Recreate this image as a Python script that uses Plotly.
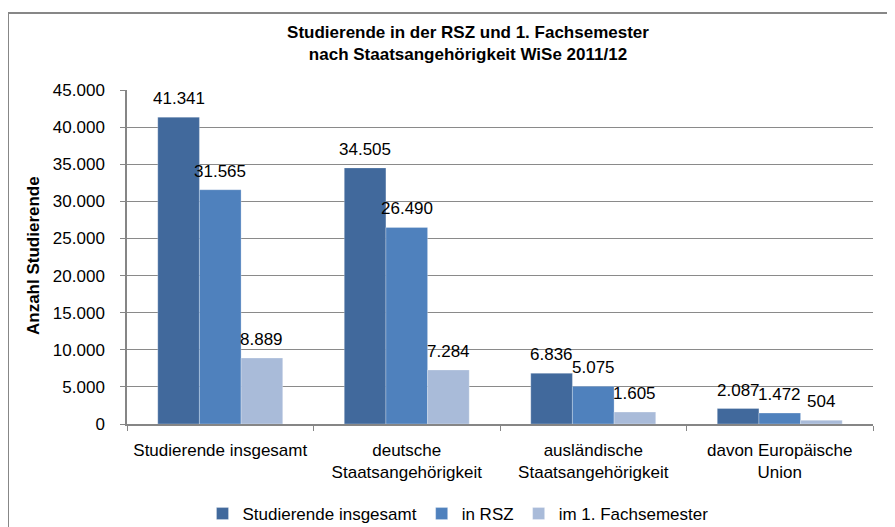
import plotly.graph_objects as go

categories = ["Studierende insgesamt", "deutsche<br>Staatsangehörigkeit",
              "ausländische<br>Staatsangehörigkeit", "davon Europäische<br>Union"]
series_names = ["Studierende insgesamt", "in RSZ", "im 1. Fachsemester"]
studierende_insgesamt = [41341, 34505, 6836, 2087]
in_rsz = [31565, 26490, 5075, 1472]
erstes_fachsemester = [8889, 7284, 1605, 504]
colors = ["#41699C", "#4F81BD", "#A9BBD9"]

FONT = "Liberation Sans, Arial, sans-serif"
FS = 17
BARGAP = 0.33

# page body has an 8px default margin -> figure is shifted by OFF
OFF = 8
W, H = 895 - OFF, 527 - OFF
# plot area in window pixels: x 127..873, y 90..424
L, R, T, B = 127 - OFF, W - (873 - OFF), 90 - OFF, H - (424 - OFF)
pw, ph = W - L - R, H - T - B

def px_x(x):
    return (x - OFF - L) / pw

def px_y(y):
    return 1 - (y - OFF - T) / ph

series = [studierende_insgesamt, in_rsz, erstes_fachsemester]
fig = go.Figure()
for name, vals, col in zip(series_names, series, colors):
    fig.add_trace(go.Bar(
        x=categories, y=vals, name=name,
        marker=dict(color=col, line=dict(color="rgba(255,255,255,0.45)", width=0.6)),
        cliponaxis=False,
    ))

# value labels above each bar (positioned via the category axis + bar offset)
bar_px = pw / len(categories) * (1 - BARGAP) / len(series)
for si, vals in enumerate(series):
    xs = (si - (len(series) - 1) / 2) * bar_px
    for cat, v in zip(categories, vals):
        fig.add_annotation(
            x=cat, y=v, xref="x", yref="y", text=f"{v:,}".replace(",", "."),
            showarrow=False, xanchor="center", yanchor="bottom",
            xshift=xs, yshift=7,
            font=dict(family=FONT, size=FS, color="#000000"),
        )

fig.update_layout(
    width=W, height=H,
    margin=dict(l=L, r=R, t=T, b=B, autoexpand=False),
    paper_bgcolor="white", plot_bgcolor="white",
    separators=",.",
    barmode="group", bargap=BARGAP, bargroupgap=0,
    font=dict(family=FONT, size=FS, color="#000000"),
    title=dict(
        text="<b>Studierende in der RSZ und 1. Fachsemester<br>nach Staatsangehörigkeit WiSe 2011/12</b>",
        x=(468 - OFF) / W, xanchor="center", y=1 - (38 - OFF) / H, yanchor="middle",
        font=dict(family=FONT, size=17, color="#000000"),
    ),
    xaxis=dict(
        showline=True, linecolor="#868686", linewidth=1.5,
        ticks="outside", tickson="boundaries", ticklen=5, tickcolor="#868686",
        ticklabelstandoff=10,
        tickfont=dict(family=FONT, size=FS, color="#000000"),
        showgrid=False,
    ),
    yaxis=dict(
        range=[0, 45000], dtick=5000, tickformat=",",
        showline=True, linecolor="#868686", linewidth=1.5,
        ticks="outside", ticklen=5, tickcolor="#868686",
        ticklabelstandoff=12,
        showgrid=True, gridcolor="#8A8A8A", gridwidth=1.3,
        zeroline=False,
        tickfont=dict(family=FONT, size=FS, color="#000000"),
    ),
    legend=dict(
        orientation="h", x=px_x(458), xanchor="center",
        y=px_y(514), yanchor="middle",
        font=dict(family=FONT, size=FS, color="#000000"),
        itemwidth=30, bgcolor="rgba(0,0,0,0)",
    ),
    showlegend=True,
)

fig.add_annotation(
    text="<b>Anzahl Studierende</b>", textangle=-90,
    xref="paper", yref="paper", x=px_x(33), y=px_y(256),
    xanchor="center", yanchor="middle", showarrow=False,
    font=dict(family=FONT, size=17, color="#000000"),
)

fig.add_shape(
    type="rect", xref="paper", yref="paper",
    x0=px_x(8), y0=px_y(560), x1=px_x(940), y1=px_y(13),
    line=dict(color="#878787", width=2), fillcolor="rgba(0,0,0,0)", layer="below",
)

fig.write_html("out.html")
